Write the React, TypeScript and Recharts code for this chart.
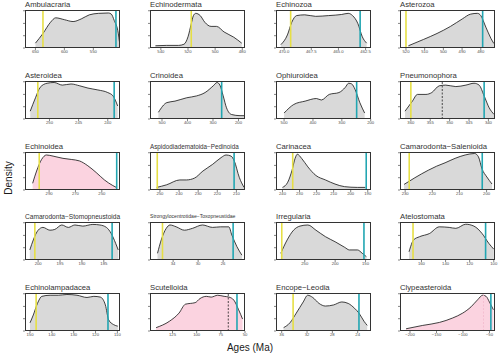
import { AreaChart, Area, XAxis, YAxis, ReferenceLine } from "recharts";

// --- values (age in Ma, density scaled to panel max) ---

const ambulacrariaAges = [650, 637, 624, 615, 600, 585, 571, 557, 541, 524, 519, 514, 507, 505];
const ambulacrariaDensity = [0.13, 0.39, 0.69, 0.81, 0.76, 0.71, 0.78, 0.89, 0.93, 0.94, 0.91, 0.74, 0.4, 0.17];
const ambulacrariaTicks = [650, 600, 550];

const echinodermataAges = [544, 536, 527, 523, 520, 517.6, 516, 514.3, 511, 507.6, 503, 499, 493.4, 486.3, 480.4];
const echinodermataDensity = [0.06, 0.07, 0.07, 0.1, 0.3, 0.65, 0.87, 0.93, 0.87, 0.69, 0.58, 0.58, 0.43, 0.29, 0.13];
const echinodermataTicks = [540, 520, 500, 480];

const echinozoaAges = [470.3, 469.7, 469.3, 468.85, 468.1, 467.1, 465.9, 464.7, 464.1, 463.7, 463.2, 462.8, 462.4];
const echinozoaDensity = [0.09, 0.35, 0.69, 0.87, 0.89, 0.85, 0.87, 0.9, 0.93, 0.87, 0.65, 0.3, 0.13];
const echinozoaTicks = [470, 467.5, 465, 462.5];

const asterozoaAges = [518.7, 510.6, 503.4, 496.2, 489.9, 485.4, 481.8, 480, 477.3, 474.6, 473];
const asterozoaDensity = [0.06, 0.23, 0.39, 0.58, 0.78, 0.91, 0.93, 0.87, 0.56, 0.26, 0.12];
const asterozoaTicks = [520, 510, 500, 490, 480];

const asteroideaAges = [253.3, 252.4, 251.6, 250.4, 249.2, 247.8, 246.3, 244.8, 243.4, 241.7, 240, 239.1, 238.3];
const asteroideaDensity = [0.21, 0.57, 0.85, 0.96, 0.98, 0.91, 0.94, 0.89, 0.83, 0.78, 0.71, 0.62, 0.35];
const asteroideaTicks = [250, 245, 240];

const crinoideaAges = [514, 481, 449, 403, 364, 331, 299, 284, 273, 260, 247, 227, 194, 176];
const crinoideaDensity = [0.18, 0.44, 0.48, 0.57, 0.62, 0.71, 0.89, 0.98, 0.91, 0.62, 0.3, 0.12, 0.09, 0.09];
const crinoideaTicks = [500, 400, 300, 200];

const ophiuroideaAges = [500, 466.5, 427, 388, 371, 343.6, 310, 288, 276.5, 265.7, 254.5, 237.7, 221];
const ophiuroideaDensity = [0.16, 0.39, 0.48, 0.55, 0.51, 0.66, 0.71, 0.85, 0.96, 0.94, 0.8, 0.44, 0.16];
const ophiuroideaTicks = [500, 400, 300, 200];

const pneumonophoraAges = [361.5, 359.6, 358.3, 356.1, 354.6, 352.7, 351, 348.4, 345.8, 343.7, 342.4, 341.1, 339.8, 338.5];
const pneumonophoraDensity = [0.21, 0.48, 0.66, 0.66, 0.71, 0.89, 0.91, 0.87, 0.91, 0.96, 0.91, 0.62, 0.3, 0.12];
const pneumonophoraTicks = [360, 355, 350, 345, 340];

const echinoideaAges = [302.5, 299.5, 295.7, 292, 287, 279.5, 273.2, 266.9, 260.6, 254.3, 248, 241.7, 239];
const echinoideaDensity = [0.18, 0.51, 0.82, 0.94, 0.91, 0.85, 0.82, 0.78, 0.65, 0.47, 0.27, 0.12, 0.07];
const echinoideaTicks = [290, 270, 250];

const aspidoAges = [251.7, 246.5, 239.6, 236.2, 231.9, 227.5, 222.4, 218, 215.4, 212.8, 211.1, 208.5, 206];
const aspidoDensity = [0.07, 0.14, 0.27, 0.27, 0.32, 0.51, 0.69, 0.87, 0.94, 0.91, 0.78, 0.34, 0.07];
const aspidoTicks = [250, 240, 230, 220, 210];

const carinaceaAges = [240, 236.9, 234.4, 232.6, 231.3, 228.8, 225.1, 220.4, 214.8, 209.2, 203.6, 196.1, 191.4];
const carinaceaDensity = [0.07, 0.21, 0.53, 0.85, 0.96, 0.85, 0.62, 0.39, 0.27, 0.16, 0.09, 0.07, 0.07];
const carinaceaTicks = [240, 230, 220, 210, 200, 190];

const camSalAges = [230.4, 226.4, 221.5, 218.4, 215.3, 211.6, 207.9, 204.4, 203, 201.7, 199.9, 198];
const camSalDensity = [0.15, 0.33, 0.53, 0.64, 0.73, 0.85, 0.94, 0.98, 0.89, 0.57, 0.35, 0.16];
const camSalTicks = [230, 220, 210, 200];

const camStoAges = [201.9, 201.1, 200, 198.9, 197.3, 196.2, 194.6, 193.1, 191.6, 189.8, 187.5, 185.9, 184.4, 183.3, 182.3, 181.7];
const camStoDensity = [0.27, 0.54, 0.8, 0.875, 0.8, 0.82, 0.94, 0.875, 0.94, 0.91, 0.955, 0.94, 0.875, 0.71, 0.45, 0.27];
const camStoTicks = [200, 195, 190, 185];

const strToxAges = [36.5, 35.9, 35.1, 34.5, 33.5, 32.2, 30.9, 29.3, 27.7, 26.4, 25.1, 24.6, 23.8, 23];
const strToxDensity = [0.18, 0.54, 0.85, 0.94, 0.89, 0.8, 0.85, 0.94, 0.875, 0.89, 0.89, 0.67, 0.36, 0.13];
const strToxTicks = [34, 30, 26];

const irregulariaAges = [289.5, 279, 268.5, 258, 244.9, 231.6, 215.9, 200.1, 184.3, 176.5, 163.3, 155.4, 148.6];
const irregulariaDensity = [0.18, 0.54, 0.8, 0.91, 0.94, 0.8, 0.625, 0.49, 0.34, 0.27, 0.27, 0.18, 0.09];
const irregulariaTicks = [250, 200, 150];

const atelostomataAges = [170.3, 166.5, 161.6, 153.4, 145.2, 137, 131.5, 123.3, 116.5, 109.7, 104.2, 100];
const atelostomataDensity = [0.22, 0.54, 0.625, 0.71, 0.89, 0.875, 0.85, 0.96, 0.91, 0.71, 0.45, 0.29];
const atelostomataTicks = [160, 140, 120, 100];

const echinolampAges = [150, 148.5, 146.6, 144.6, 140.8, 137, 133.1, 128.5, 123.9, 120.8, 117.8, 115.5, 114, 111.7, 109.8];
const echinolampDensity = [0.22, 0.43, 0.74, 0.93, 0.96, 0.96, 0.98, 0.96, 0.9, 0.93, 0.91, 0.7, 0.3, 0.17, 0.13];
const echinolampTicks = [150, 140, 130, 120, 110];

const scutelloidaAges = [142, 128.3, 118.3, 111.6, 106.6, 101.6, 96.6, 90, 85, 78.3, 71.6, 66.6, 61.6, 56.6, 52.5];
const scutelloidaDensity = [0.09, 0.26, 0.48, 0.72, 0.74, 0.76, 0.87, 0.93, 0.91, 0.96, 0.93, 0.91, 0.83, 0.57, 0.32];
const scutelloidaTicks = [125, 100, 75, 50];

const encopeAges = [35.7, 34.7, 33.7, 32.6, 31.9, 31.1, 30.1, 29.1, 27.8, 26.5, 25.5, 24.5, 23.8, 23, 22.5];
const encopeDensity = [0.09, 0.22, 0.48, 0.78, 0.96, 0.9, 0.74, 0.67, 0.7, 0.78, 0.74, 0.61, 0.48, 0.26, 0.15];
const encopeTicks = [36, 32, 28, 24];

const clypeAges = [-207.4, -176, -144.5, -119.4, -100.6, -84.7, -72.3, -62.8, -56.4, -50.2, -42.6];
const clypeDensity = [0.06, 0.15, 0.23, 0.35, 0.48, 0.65, 0.84, 0.96, 0.93, 0.78, 0.57];
const clypeTicks = [-200, -150, -100, -50];

type PanelDef = {
  name: string;
  ages: number[];
  density: number[];
  ticks: number[];
  domain: [number, number]; // [left edge, right edge]
  yellow?: number;
  blue?: number;
  dashed?: number;
  dashColor?: string;
  pink?: boolean;
  titleSize?: number;
  digits?: number;
};

const panels: PanelDef[] = [
  { name: "Ambulacraria", ages: ambulacrariaAges, density: ambulacrariaDensity, ticks: ambulacrariaTicks, domain: [668, 504], yellow: 637, blue: 511 },
  { name: "Echinodermata", ages: echinodermataAges, density: echinodermataDensity, ticks: echinodermataTicks, domain: [548, 478], yellow: 517.6 },
  { name: "Echinozoa", ages: echinozoaAges, density: echinozoaDensity, ticks: echinozoaTicks, domain: [470.75, 462], yellow: 469.4, blue: 463, digits: 1 },
  { name: "Asterozoa", ages: asterozoaAges, density: asterozoaDensity, ticks: asterozoaTicks, domain: [523.2, 472.4], yellow: 520, blue: 479 },
  { name: "Asteroidea", ages: asteroideaAges, density: asteroideaDensity, ticks: asteroideaTicks, domain: [254.2, 237.9], yellow: 252, blue: 238.9 },
  { name: "Crinoidea", ages: crinoideaAges, density: crinoideaDensity, ticks: crinoideaTicks, domain: [547, 174.5], blue: 266 },
  { name: "Ophiuroidea", ages: ophiuroideaAges, density: ophiuroideaDensity, ticks: ophiuroideaTicks, domain: [528, 199], blue: 248.7 },
  { name: "Pneumonophora", ages: pneumonophoraAges, density: pneumonophoraDensity, ticks: pneumonophoraTicks, domain: [362.8, 338.3], yellow: 360, blue: 341.1, dashed: 351.9 },
  { name: "Echinoidea", ages: echinoideaAges, density: echinoideaDensity, ticks: echinoideaTicks, domain: [308.3, 236.2], yellow: 297.5, blue: 238.7, pink: true },
  { name: "Aspidodiadematoida\u2212Pedinoida", ages: aspidoAges, density: aspidoDensity, ticks: aspidoTicks, domain: [255.2, 205.5], yellow: 251.4, blue: 211.2, titleSize: 6.3 },
  { name: "Carinacea", ages: carinaceaAges, density: carinaceaDensity, ticks: carinaceaTicks, domain: [243.8, 188.1], yellow: 234, blue: 190.9 },
  { name: "Camarodonta\u2212Salenioida", ages: camSalAges, density: camSalDensity, ticks: camSalTicks, domain: [231.9, 196.9], yellow: 228.5, blue: 201.6 },
  { name: "Camarodonta\u2212Stomopneustoida", ages: camStoAges, density: camStoDensity, ticks: camStoTicks, domain: [203, 181.3], yellow: 200.75, blue: 183.1, titleSize: 6.6 },
  { name: "Strongylocentrotidae\u2212Toxopneustidae", ages: strToxAges, density: strToxDensity, ticks: strToxTicks, domain: [37.7, 22.5], yellow: 35.7, blue: 24.4, titleSize: 5.1 },
  { name: "Irregularia", ages: irregulariaAges, density: irregulariaDensity, ticks: irregulariaTicks, domain: [297.4, 141], yellow: 287.9, blue: 152.6 },
  { name: "Atelostomata", ages: atelostomataAges, density: atelostomataDensity, ticks: atelostomataTicks, domain: [177.8, 99], yellow: 167, blue: 106.8 },
  { name: "Echinolampadacea", ages: echinolampAges, density: echinolampDensity, ticks: echinolampTicks, domain: [152.3, 108.8], yellow: 147.2, blue: 114.3 },
  { name: "Scutelloida", ages: scutelloidaAges, density: scutelloidaDensity, ticks: scutelloidaTicks, domain: [148.3, 50], blue: 58.3, dashed: 67.3, pink: true },
  { name: "Encope\u2212Leodia", ages: encopeAges, density: encopeDensity, ticks: encopeTicks, domain: [36.9, 21.9], yellow: 34.2, blue: 23.8 },
  { name: "Clypeasteroida", ages: clypeAges, density: clypeDensity, ticks: clypeTicks, domain: [-218.9, -39.6], blue: -47.4, dashed: -61.3, dashColor: "#f3b9cc", pink: true },
];

const BOX_W = 95;
const BOX_H = 38;
const Y_W = 3;
const X_H = 10;
const PAD_R = 8; // room for edge tick labels
const COL_LEFT = [25, 150, 276, 400];
const ROW_TOP = [10, 81, 152, 222, 293];
const FONT = "'Liberation Sans', Arial, sans-serif";

function Panel({ p, left, top }: { p: PanelDef; left: number; top: number }) {
  const data = p.ages.map((age, i) => ({ age, density: p.density[i] }));
  const reversed = p.domain[0] > p.domain[1];
  const lo = Math.min(p.domain[0], p.domain[1]);
  const hi = Math.max(p.domain[0], p.domain[1]);
  const fmt = (v: number) =>
    (p.digits ? v.toFixed(p.digits) : String(v)).replace("-", "\u2212");

  return (
    <div style={{ position: "absolute", left: left - Y_W, top }}>
      <div
        style={{
          position: "absolute",
          left: Y_W,
          top: -10,
          fontSize: p.titleSize ?? 7.7,
          lineHeight: "9px",
          height: 9,
          display: "flex",
          alignItems: "flex-end",
          whiteSpace: "nowrap",
          color: "#333",
          fontWeight: 400,
        }}
      >
        {p.name}
      </div>
      <AreaChart
        width={BOX_W + Y_W + PAD_R}
        height={BOX_H + X_H}
        data={data}
        margin={{ top: 0, right: PAD_R, bottom: 0, left: 0 }}
      >
        <XAxis
          dataKey="age"
          type="number"
          domain={[lo, hi]}
          reversed={reversed}
          allowDataOverflow
          ticks={p.ticks}
          interval={0}
          tickFormatter={fmt}
          height={X_H}
          tickSize={2}
          tickMargin={0}
          axisLine={false}
          tickLine={{ stroke: "#333", strokeWidth: 0.6 }}
          tick={{ fontSize: 4.2, fill: "#4d4d4d", fontFamily: FONT }}
        />
        <YAxis
          type="number"
          domain={[0, 1.02]}
          ticks={[0, 0.33, 0.66, 1]}
          width={Y_W}
          tickSize={2}
          axisLine={false}
          tickLine={{ stroke: "#333", strokeWidth: 0.6 }}
          tickFormatter={() => ""}
        />
        <Area
          type="monotone"
          dataKey="density"
          stroke="#111"
          strokeWidth={0.8}
          fill={p.pink ? "#fbd3e0" : "#d9d9d9"}
          fillOpacity={1}
          dot={false}
          activeDot={false}
          isAnimationActive={false}
        />
        {p.yellow !== undefined && (
          <ReferenceLine x={p.yellow} stroke="#e6df45" strokeWidth={1.6} />
        )}
        {p.dashed !== undefined && (
          <ReferenceLine
            x={p.dashed}
            stroke={p.dashColor ?? "#222"}
            strokeWidth={0.8}
            strokeDasharray="2 1.5"
          />
        )}
        {p.blue !== undefined && (
          <ReferenceLine x={p.blue} stroke="#22a6b2" strokeWidth={1.6} />
        )}
      </AreaChart>
      <div
        style={{
          position: "absolute",
          left: Y_W,
          top: 0,
          width: BOX_W,
          height: BOX_H,
          border: "1px solid #333",
          boxSizing: "border-box",
          pointerEvents: "none",
        }}
      />
    </div>
  );
}

export default function App() {
  return (
    <div
      style={{
        position: "absolute",
        left: 0,
        top: 0,
        width: 500,
        height: 357,
        background: "#fff",
        fontFamily: FONT,
        overflow: "hidden",
      }}
    >
      {panels.map((p, i) => (
        <Panel
          key={p.name}
          p={p}
          left={COL_LEFT[i % 4]}
          top={ROW_TOP[Math.floor(i / 4)]}
        />
      ))}
      <div
        style={{
          position: "absolute",
          left: 8,
          top: 178,
          transform: "translate(-50%, -50%) rotate(-90deg)",
          fontSize: 10,
          color: "#1a1a1a",
          whiteSpace: "nowrap",
        }}
      >
        Density
      </div>
      <div
        style={{
          position: "absolute",
          left: 250,
          top: 347,
          transform: "translate(-50%, -50%)",
          fontSize: 10,
          color: "#1a1a1a",
          whiteSpace: "nowrap",
        }}
      >
        Ages (Ma)
      </div>
    </div>
  );
}
